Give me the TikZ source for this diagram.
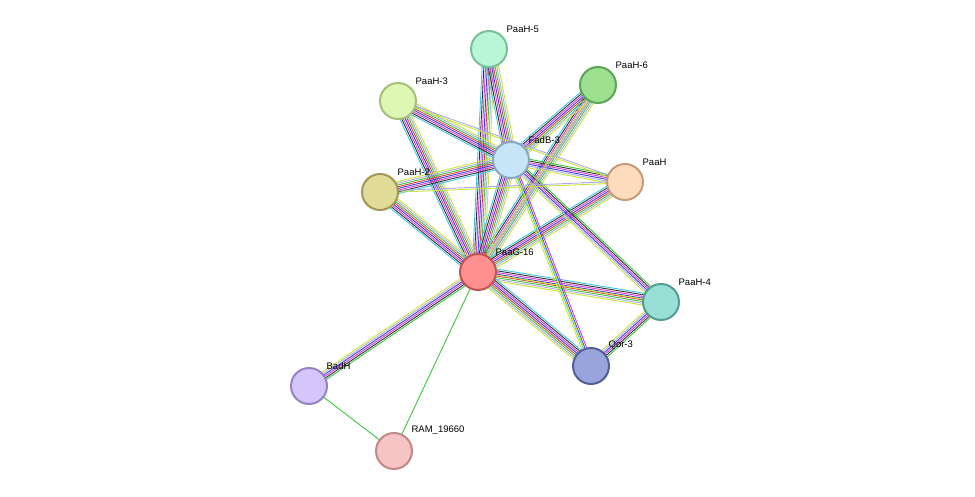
\documentclass[tikz,border=0pt]{standalone}
\usepackage{fontspec}
\setmainfont{Liberation Sans}
\usetikzlibrary{calc}
\definecolor{tmine}{HTML}{C8E632}
\definecolor{homol}{HTML}{AEA9F2}
\definecolor{neigh}{HTML}{3CC83C}
\definecolor{fusion}{HTML}{E83C3C}
\definecolor{cooc}{HTML}{3C3CE8}
\definecolor{coexp}{HTML}{333333}
\definecolor{exper}{HTML}{D83CD8}
\definecolor{dbase}{HTML}{3CC8E8}
\newcommand{\bundle}[3]{%
  \foreach \c [count=\k] in {#3} {
    \pgfmathsetmacro{\off}{(\k-1)*1.7-0.85*(\n-1)}
    \draw[\c, line width=0.9pt]
      ($(#1)!\off pt!90:(#2)$) -- ($(#2)!\off pt!-90:(#1)$);
  }%
}
\begin{document}
\begin{tikzpicture}[x=1pt,y=-1pt,
    prot/.style={circle, minimum size=36pt, line width=2pt, inner sep=0pt},
    lbl/.style={font=\fontsize{9.5}{11}\selectfont, anchor=south west, inner sep=0pt, xshift=4pt, yshift=3pt}
  ]
  \useasboundingbox (0,0) rectangle (975,497);

  \coordinate (paah5)  at (489,49);
  \coordinate (paah6)  at (598,85);
  \coordinate (paah3)  at (398,101);
  \coordinate (fadb3)  at (511,160);
  \coordinate (paah)   at (625,182);
  \coordinate (paah2)  at (380,192);
  \coordinate (paag16) at (478,272);
  \coordinate (paah4)  at (661,302);
  \coordinate (qor3)   at (591,366);
  \coordinate (badh)   at (309,386);
  \coordinate (ram)    at (394,451);

  % edges
  \def\n{8}
  \foreach \a/\b in {paag16/paah5, paag16/paah6, paag16/paah3, paag16/fadb3,
                     paag16/paah, paag16/paah2, paag16/paah4, paag16/qor3,
                     fadb3/paah5, fadb3/paah6, fadb3/paah3, fadb3/paah2}
    {\bundle{\a}{\b}{tmine,homol,neigh,fusion,cooc,exper,coexp,dbase}}
  \def\n{6}
  \foreach \a/\b in {fadb3/paah, fadb3/paah4, paah4/qor3, paag16/badh}
    {\bundle{\a}{\b}{tmine,homol,cooc,exper,coexp,neigh}}
  \def\n{4}
  \foreach \a/\b in {fadb3/qor3}
    {\bundle{\a}{\b}{tmine,dbase,cooc,exper}}
  \def\n{2}
  \foreach \a/\b in {paah2/paah, paah3/paah, paah6/paag16}
    {\bundle{\a}{\b}{tmine,homol}}
  \def\n{1}
  \foreach \a/\b in {paag16/paah4, fadb3/qor3}
    {\bundle{\a}{\b}{tmine}}
  \draw[neigh, line width=0.9pt] (paag16) -- (ram);
  \draw[neigh, line width=0.9pt] (badh) -- (ram);

  % proteins
  \node[prot, fill={rgb,255:red,184;green,246;blue,214}, draw={rgb,255:red,122;green,192;blue,156}, label={[lbl]north east:PaaH-5}] (n-paah5) at (paah5) {};
  \node[prot, fill={rgb,255:red,156;green,224;blue,144}, draw={rgb,255:red,92;green,164;blue,88}, label={[lbl]north east:PaaH-6}] (n-paah6) at (paah6) {};
  \node[prot, fill={rgb,255:red,222;green,248;blue,180}, draw={rgb,255:red,166;green,192;blue,124}, label={[lbl]north east:PaaH-3}] (n-paah3) at (paah3) {};
  \node[prot, fill={rgb,255:red,198;green,230;blue,248}, draw={rgb,255:red,136;green,168;blue,190}, label={[lbl]north east:FadB-3}] (n-fadb3) at (fadb3) {};
  \node[prot, fill={rgb,255:red,252;green,220;blue,188}, draw={rgb,255:red,196;green,156;blue,124}, label={[lbl]north east:PaaH}] (n-paah) at (paah) {};
  \node[prot, fill={rgb,255:red,224;green,220;blue,152}, draw={rgb,255:red,160;green,152;blue,84}, label={[lbl]north east:PaaH-2}] (n-paah2) at (paah2) {};
  \node[prot, fill={rgb,255:red,255;green,142;blue,142}, draw={rgb,255:red,192;green,84;blue,84}, label={[lbl]north east:PaaG-16}] (n-paag16) at (paag16) {};
  \node[prot, fill={rgb,255:red,152;green,224;blue,214}, draw={rgb,255:red,84;green,156;blue,148}, label={[lbl]north east:PaaH-4}] (n-paah4) at (paah4) {};
  \node[prot, fill={rgb,255:red,154;green,164;blue,220}, draw={rgb,255:red,84;green,94;blue,150}, label={[lbl]north east:Qor-3}] (n-qor3) at (qor3) {};
  \node[prot, fill={rgb,255:red,212;green,198;blue,250}, draw={rgb,255:red,150;green,130;blue,196}, label={[lbl]north east:BadH}] (n-badh) at (badh) {};
  \node[prot, fill={rgb,255:red,246;green,196;blue,196}, draw={rgb,255:red,192;green,136;blue,136}, label={[lbl]north east:RAM\_19660}] (n-ram) at (ram) {};
\end{tikzpicture}
\end{document}
